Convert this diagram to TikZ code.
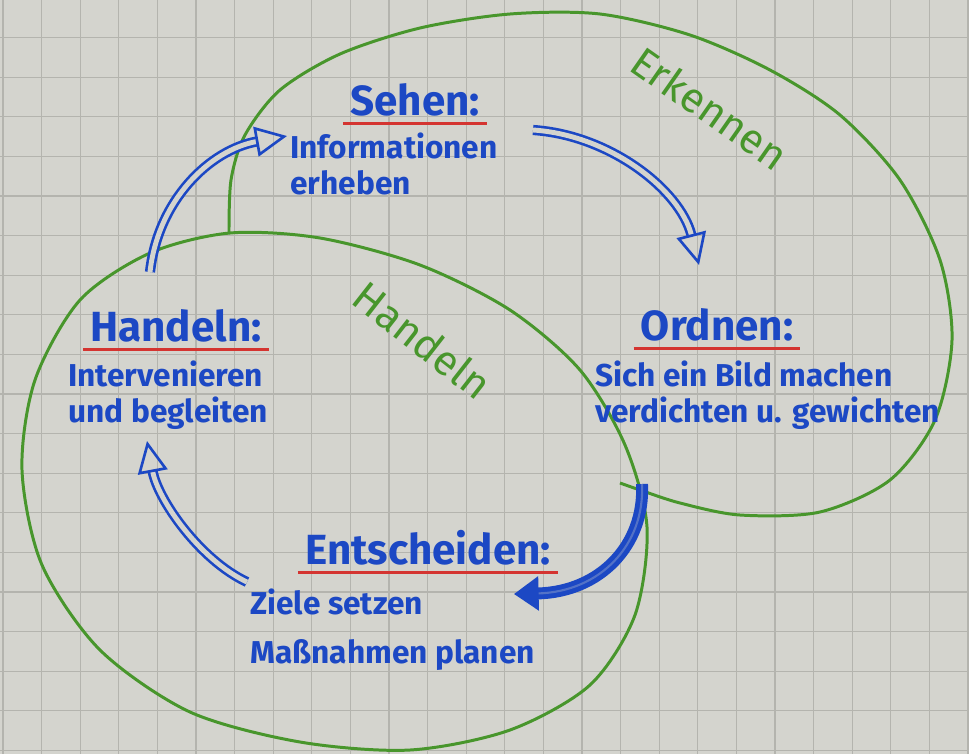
\documentclass[tikz,border=0pt]{standalone}
\usepackage{fontspec}
\setmainfont{Fira Sans}
\usetikzlibrary{arrows.meta,positioning}

\definecolor{paper}{RGB}{212,212,206}
\definecolor{gridgray}{RGB}{180,180,174}
\definecolor{markerblue}{RGB}{28,72,196}
\definecolor{markergreen}{RGB}{72,150,44}
\definecolor{markerred}{RGB}{212,52,48}

\begin{document}
\begin{tikzpicture}[x=0.02cm,y=-0.02cm,
    phase/.style={text=markerblue,font=\bfseries\fontsize{24}{26}\selectfont,inner sep=0pt},
    task/.style={text=markerblue,font=\bfseries\fontsize{18}{21}\selectfont,align=left,inner sep=0pt,anchor=north west},
    loop label/.style={text=markergreen,font=\fontsize{24}{26}\selectfont,inner sep=0pt},
    loop line/.style={draw=markergreen,line width=1.7pt},
    underline/.style={draw=markerred,line width=1.6pt},
    cycle arrow/.style={draw=markerblue,line width=1.5pt,double=paper,double distance=2.8pt,
      -{Triangle[open,length=18pt,width=17pt,line width=1.5pt]}},
    heavy arrow/.style={draw=markerblue,line width=2.8pt,double=markerblue!70!paper,double distance=1.2pt,
      -{Triangle[length=14pt,width=19pt]}}]

	% paper with grid
	\useasboundingbox[fill=paper] (0,0) rectangle (969,754);
	\foreach \i in {0,...,25}
	  \draw[gridgray,line width=0.6pt] (3+38.6*\i,0) -- (3+38.6*\i,754);
	\foreach \j in {0,...,19}
	  \draw[gridgray,line width=0.6pt] (0,-2+39.6*\j) -- (969,-2+39.6*\j);

	% the two loops
	\draw[loop line] plot[smooth cycle] coordinates {
	  (230,233) (320,238) (420,265) (510,310) (580,370) (625,445) (647,527)
	  (635,615) (590,685) (510,730) (410,750) (300,742) (190,712) (100,650)
	  (42,565) (22,470) (35,380) (80,300) (150,253)};
	\draw[loop line] plot[smooth] coordinates {
	  (229,234) (231,180) (245,135) (280,90) (340,54) (420,28) (510,14)
	  (600,14) (690,35) (770,70) (840,115) (900,180) (940,260) (952,340)
	  (935,420) (890,480) (820,512) (740,515) (680,503) (640,490) (620,483)};

	\node[loop label,rotate=-35] (erk) at (710,108) {Erkennen};
	\node[loop label,rotate=-38] (hnd) at (423,340) {Handeln};

	% phases
	\node[phase] (seh) at (415,100) {Sehen:};
	\node[task] (sehtxt) at (290,132) {Informationen\\erheben};

	\node[phase] (ord) at (717,325) {Ordnen:};
	\node[task] (ordtxt) at (595,360) {Sich ein Bild machen\\verdichten u. gewichten};

	\node[phase] (ent) at (428,548) {Entscheiden:};
	\node[task] (enttxt) at (250,588) {Ziele setzen\\[7pt]Maßnahmen planen};

	\node[phase] (han) at (176,326) {Handeln:};
	\node[task] (hantxt) at (68,360) {Intervenieren\\und begleiten};

	\foreach \p in {seh,ord,ent,han}
	  \draw[underline] ([xshift=-4pt,yshift=-4pt]\p.south west) -- ([xshift=4pt,yshift=-4pt]\p.south east);

	% cycle arrows
	\coordinate (a1) at (150,272);
	\coordinate (b1) at (287,136);
	\coordinate (a2) at (533,130);
	\coordinate (b2) at (699,265);
	\coordinate (a3) at (642,484);
	\coordinate (b3) at (514,594);
	\coordinate (a4) at (247,582);
	\coordinate (b4) at (147,441);

	\draw[cycle arrow] (a1) .. controls (158,200) and (210,150) .. (b1);
	\draw[cycle arrow] (a2) .. controls (610,135) and (680,190) .. (b2);
	\draw[heavy arrow] (a3) .. controls (645,545) and (600,592) .. (b3);
	\draw[cycle arrow] (a4) .. controls (200,560) and (158,500) .. (b4);
\end{tikzpicture}
\end{document}
